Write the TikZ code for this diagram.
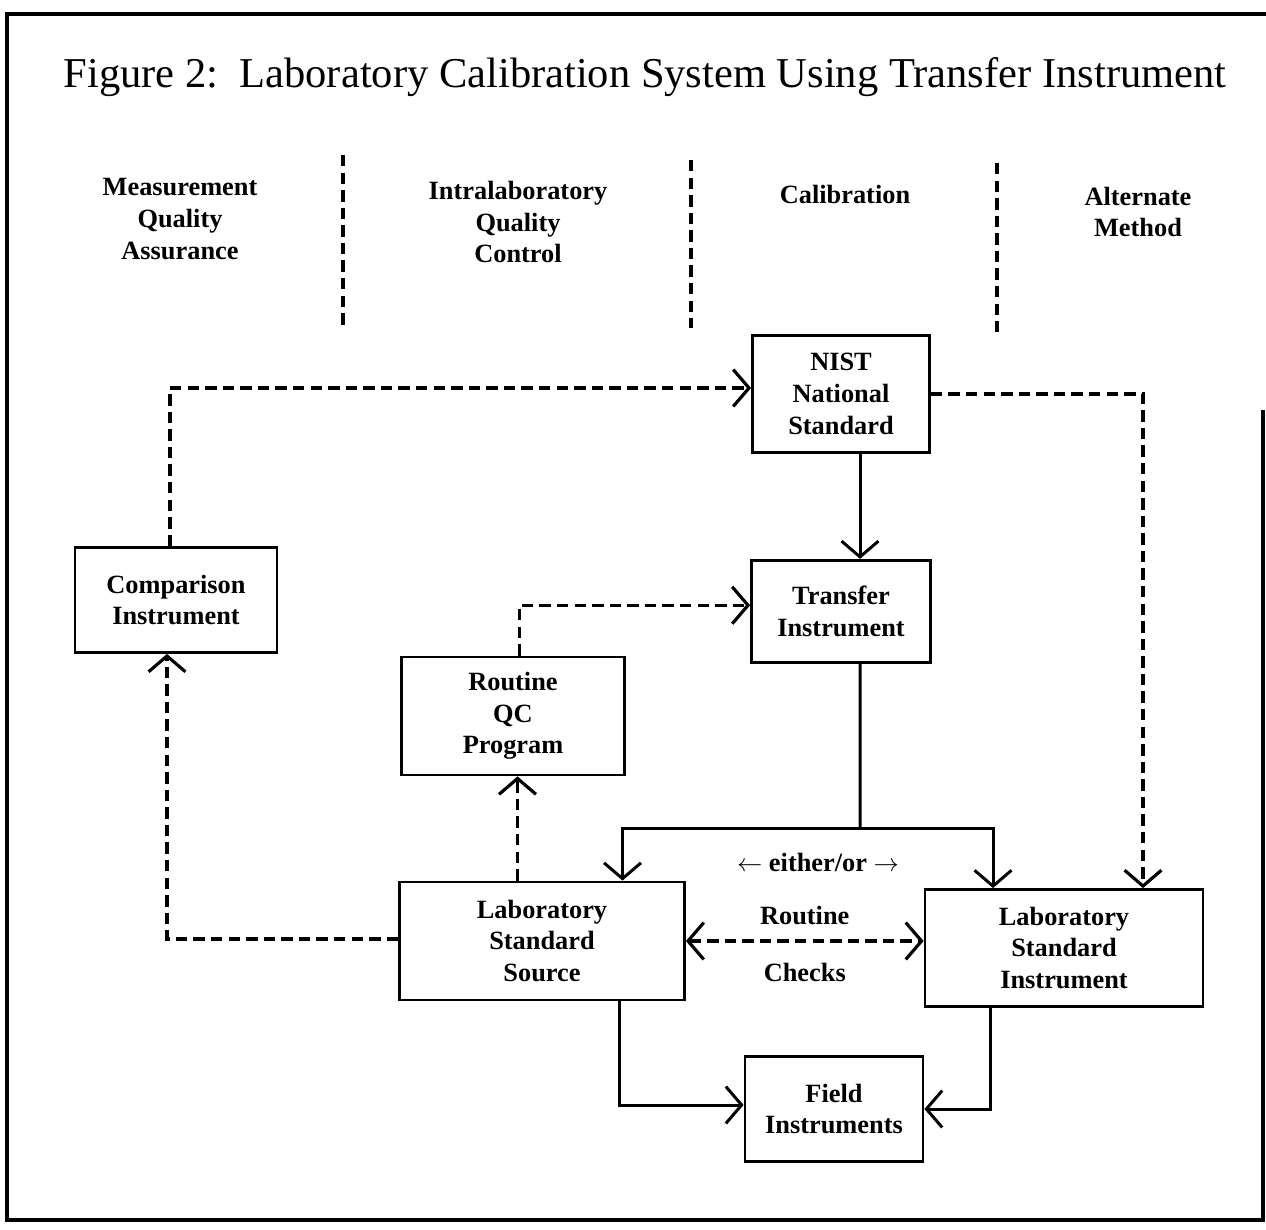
\documentclass[tikz,border=0pt]{standalone}
\usepackage{fontspec}
\setmainfont{Liberation Serif}
\usetikzlibrary{positioning,arrows.meta}

\begin{document}
\begin{tikzpicture}[>={Straight Barb[length=9pt,width=21pt]}, x=0.02cm, y=-0.02cm,
  every node/.style={font=\bfseries\fontsize{15}{18}\selectfont, align=center},
  block/.style={rectangle, draw, line width=1.6pt, inner sep=0pt},
  link/.style={line width=1.7pt},
  dlink/.style={line width=1.8pt, dash pattern=on 6.5pt off 3.5pt}]
\useasboundingbox (0,0) rectangle (1266,1229);
\draw[line width=2pt] (1263,410) -- (1263,1220) -- (7,1220) -- (7,14) -- (1266,14);

\node[anchor=base, font=\fontsize{24.2}{30}\selectfont] (title) at (645,88)
  {Figure 2:\ \ Laboratory Calibration System Using Transfer Instrument};

% column headings
\node (hdrmqa) at (180,219) {Measurement\\Quality\\Assurance};
\node (hdriqc) at (518,222) {Intralaboratory\\Quality\\Control};
\node (hdrcal) at (845,194) {Calibration};
\node (hdralt) at (1138,212) {Alternate\\Method};
\foreach \x/\ya/\yb in {343/155/325, 691/160/328, 997/163/332}
  \draw[dlink] (\x,\ya) -- (\x,\yb);

% boxes
\node[block, minimum width=3.54cm, minimum height=2.34cm] (nist) at (841,394) {NIST\\National\\Standard};
\node[block, minimum width=3.58cm, minimum height=2.04cm, below=2.1cm of nist] (transfer) {Transfer\\Instrument};
\node[block, minimum width=4.04cm, minimum height=2.1cm] (comparison) at (176,600) {Comparison\\Instrument};
\node[block, minimum width=4.46cm, minimum height=2.36cm] (qc) at (513,716) {Routine\\QC\\Program};
\node[block, minimum width=5.7cm, minimum height=2.36cm] (source) at (542,941) {Laboratory\\Standard\\Source};
\node[block, minimum width=5.56cm, minimum height=2.34cm] (instrument) at (1064,948) {Laboratory\\Standard\\Instrument};
\node[block, minimum width=3.56cm, minimum height=2.1cm] (field) at (834,1109) {Field\\Instruments};
\node (eitheror) at (818,862) {$\leftarrow$ either/or $\rightarrow$};

% connectors
\coordinate (fork) at (860,828);
\draw[dlink,->] ([xshift=-0.12cm]comparison.north) |- ([yshift=0.12cm]nist.west);
\draw[dlink,->] (nist.east) -| ([xshift=1.58cm]instrument.north);
\draw[link,->] ([xshift=0.38cm]nist.south) -- ([xshift=0.38cm]nist.south |- transfer.north);
\draw[link] ([xshift=0.38cm]nist.south |- transfer.south) -- (fork);
\draw[link,->] (fork) -| ([xshift=1.61cm]source.north);
\draw[link,->] (fork) -| ([xshift=-1.42cm]instrument.north);
\draw[dlink,->] ([xshift=-0.49cm]source.north) -- ([xshift=-0.49cm]source.north |- qc.south);
\draw[dlink,->] ([xshift=0.13cm]qc.north) |- ([yshift=0.12cm]transfer.west);
\draw[dlink,->] ([yshift=0.04cm]source.west) -| ([xshift=-0.18cm]comparison.south);
\draw[dlink,<->] (source.east) -- (source.east -| instrument.west)
  node[midway, above=0.18cm] (routine) {Routine}
  node[midway, below=0.3cm] (checks) {Checks};
\draw[link,->] ([xshift=1.55cm]source.south) |- ([yshift=0.08cm]field.west);
\draw[link,->] ([xshift=-1.48cm]instrument.south) |- (field.east);
\end{tikzpicture}
\end{document}
